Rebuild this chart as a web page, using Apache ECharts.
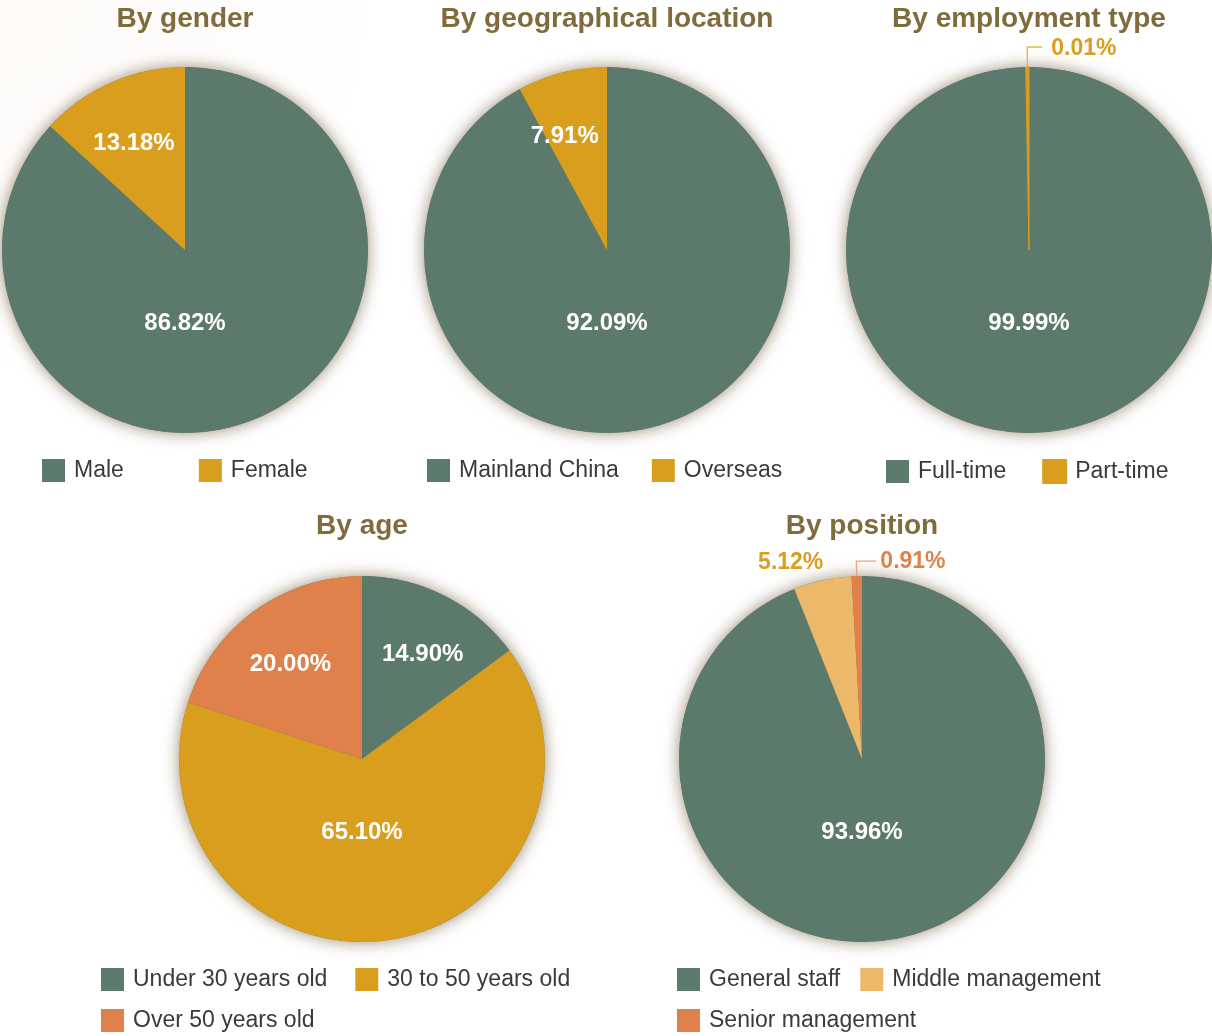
<!DOCTYPE html>
<html>
<head>
<meta charset="utf-8">
<script src="https://cdn.jsdelivr.net/npm/echarts@6/dist/echarts.min.js"></script>
<style>
  html, body { margin: 0; padding: 0; background: #ffffff; }
  #chart { width: 1212px; height: 1036px; }
</style>
</head>
<body>
<div id="chart"></div>
<script>
// ---- Data ----
const chartTitles = ['By gender', 'By geographical location', 'By employment type', 'By age', 'By position'];
const genderLabels = ['Male', 'Female'];
const genderValues = [86.82, 13.18];
const geoLabels = ['Mainland China', 'Overseas'];
const geoValues = [92.09, 7.91];
const employmentLabels = ['Full-time', 'Part-time'];
const employmentValues = [99.99, 0.01];
const ageLabels = ['Under 30 years old', '30 to 50 years old', 'Over 50 years old'];
const ageValues = [14.90, 65.10, 20.00];
const positionLabels = ['General staff', 'Middle management', 'Senior management'];
const positionValues = [93.96, 5.12, 0.91];

// ---- Styles ----
const GREEN = '#5c7a6c', GOLD = '#d99e1e', ORANGE = '#e0804b', LIGHT = '#ecb96a';
const FONT = '"Liberation Sans", Arial, Helvetica, sans-serif';
const TITLE_COLOR = '#806b3c';
const R = 183;

// legend rows: [first item index, last item index (exclusive), left, top, gap]
const panels = [
  { title: chartTitles[0], labels: genderLabels, values: genderValues, colors: [GREEN, GOLD],
    center: [185, 250], titleTop: 5, legendRows: [[0, 2, 42, 459, 75]],
    items: [{ pos: 'center', dy: 73 }, { pos: 'inside', dx: -13, dy: -20 }] },
  { title: chartTitles[1], labels: geoLabels, values: geoValues, colors: [GREEN, GOLD],
    center: [607, 250], titleTop: 5, legendRows: [[0, 2, 427, 459, 33]],
    items: [{ pos: 'center', dy: 73 }, { pos: 'inside', dx: -19, dy: -22 }] },
  { title: chartTitles[2], labels: employmentLabels, values: employmentValues, colors: [GREEN, GOLD],
    center: [1029, 250], titleTop: 5, legendRows: [[0, 2, 886, 459, 36]],
    minAngle: 1,
    items: [{ pos: 'center', dy: 73 },
            { pos: 'outside', mirror: true, len: 20, len2: 15, gap: 9, ty: 2, color: GOLD, lineColor: '#e3b24e', border: true }] },
  { title: chartTitles[3], labels: ageLabels, values: ageValues, colors: [GREEN, GOLD, ORANGE],
    center: [362, 759], titleTop: 512, legendRows: [[0, 2, 101, 968, 28], [2, 3, 101, 1009, 28]],
    items: [{ pos: 'inside', dx: 18, dy: -20 }, { pos: 'center', dy: 73 }, { pos: 'inside', dx: -16, dy: -18 }] },
  { title: chartTitles[4], labels: positionLabels, values: positionValues, colors: [GREEN, LIGHT, ORANGE],
    center: [862, 759], titleTop: 512, legendRows: [[0, 2, 677, 968, 20], [2, 3, 677, 1009, 20]],
    items: [{ pos: 'center', dy: 73 },
            { pos: 'outside', len: 19, len2: 0, noLine: true, dx: 5, dy: 1, color: '#d9a020' },
            { pos: 'outside', mirror: true, len: 15, len2: 20, gap: 4, ty: 1, color: ORANGE, lineColor: '#eea47c' }] }
];

function makeLayout(items) {
  return function (p) {
    const a = items[p.dataIndex];
    if (!a) return {};
    if (a.mirror && p.labelLinePoints) {
      const pts = p.labelLinePoints;
      const len2 = Math.abs(pts[2][0] - pts[1][0]);
      const x3 = pts[1][0] + len2;
      return {
        x: x3 + a.gap, y: pts[2][1] + (a.ty || 0), align: 'left', verticalAlign: 'middle',
        labelLinePoints: [pts[0], pts[1], [x3, pts[2][1]]]
      };
    }
    return { dx: a.dx || 0, dy: a.dy || 0 };
  };
}

const titles = [], legends = [], series = [];
panels.forEach(function (pn) {
  titles.push({
    text: pn.title, left: pn.center[0], top: pn.titleTop, textAlign: 'center', padding: 0,
    textStyle: { fontFamily: FONT, fontSize: 28, fontWeight: 'bold', color: TITLE_COLOR }
  });
  pn.legendRows.forEach(function (row) {
    legends.push({
      data: pn.labels.slice(row[0], row[1]), left: row[2], top: row[3],
      orient: 'horizontal', itemGap: row[4], itemWidth: 23, itemHeight: 23, icon: 'rect',
      padding: 0, selectedMode: false,
      textStyle: { fontFamily: FONT, fontSize: 23, color: '#3a3a3a', padding: [0, 0, 0, 4] }
    });
  });
  // soft shadow disc behind the pie
  series.push({
    type: 'pie', center: pn.center, radius: R, silent: true, animation: false,
    label: { show: false }, labelLine: { show: false },
    itemStyle: { color: GREEN, shadowBlur: 16, shadowColor: 'rgba(100,75,40,0.65)' },
    data: [{ value: 1, name: '' }], z: 1
  });
  series.push({
    type: 'pie', center: pn.center, radius: R, startAngle: 90, clockwise: true,
    animation: false, avoidLabelOverlap: false, minAngle: pn.minAngle || 0, z: 2,
    labelLayout: makeLayout(pn.items),
    label: {
      fontFamily: FONT, fontSize: 24, fontWeight: 'bold', color: '#ffffff',
      formatter: function (p) { return p.value.toFixed(2) + '%'; }
    },
    data: pn.labels.map(function (name, i) {
      const it = pn.items[i];
      const d = {
        name: name, value: pn.values[i],
        itemStyle: { color: pn.colors[i] },
        label: { position: it.pos },
        labelLine: { show: false }
      };
      if (it.border) { d.itemStyle.borderColor = pn.colors[i]; d.itemStyle.borderWidth = 1; }
      if (it.pos === 'outside') {
        d.label.color = it.color;
        d.label.fontSize = 23;
        d.label.distanceToLabelLine = 0;
        d.labelLine = {
          show: !it.noLine, length: it.len, length2: it.len2, smooth: false,
          lineStyle: { color: it.lineColor || it.color, width: 1.3 }
        };
      }
      return d;
    })
  });
});

const chart = echarts.init(document.getElementById('chart'), null, { renderer: 'canvas' });
chart.setOption({
  backgroundColor: {
    type: 'radial', x: 0, y: 0, r: 0.35,
    colorStops: [{ offset: 0, color: '#fdfaf7' }, { offset: 1, color: '#ffffff' }]
  },
  title: titles,
  legend: legends,
  series: series
});
</script>
</body>
</html>
